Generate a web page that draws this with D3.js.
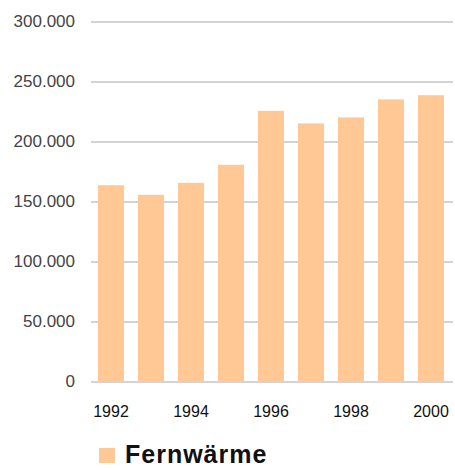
<!DOCTYPE html>
<html><head><meta charset="utf-8">
<script src="https://cdn.jsdelivr.net/npm/d3@7"></script>
<style>body{margin:0;background:#fff;}svg{display:block;font-family:Arial,"Liberation Sans",sans-serif;}</style>
</head><body>
<script>
const years = [1992,1993,1994,1995,1996,1997,1998,1999,2000];
const values = [164000,156000,166000,181000,226000,215500,220500,235500,239000];
const yTicks = [0,50000,100000,150000,200000,250000,300000];
const xTickLabels = [1992,1994,1996,1998,2000];
const seriesName = "Fernwärme";

const W=455,H=470;
const svg=d3.select("body").append("svg").attr("width",W).attr("height",H);
const x=d3.scaleBand().domain(years).range([91,451]).paddingInner(0.35).paddingOuter(0.175);
const y=d3.scaleLinear().domain([0,300000]).range([382,22]);
const fmt=v=>d3.format(",")(v).replace(/,/g,".");

// gridlines
svg.append("g").selectAll("line").data(yTicks).join("line")
  .attr("x1",91).attr("x2",453).attr("y1",d=>y(d)).attr("y2",d=>y(d))
  .attr("stroke","#c4c4c4").attr("stroke-width",1.5);
// y labels
svg.append("g").selectAll("text").data(yTicks).join("text")
  .attr("x",75).attr("y",d=>y(d)+5).attr("text-anchor","end")
  .attr("font-size",17).attr("fill","#444").text(fmt);
// bars
svg.append("g").selectAll("rect").data(years).join("rect")
  .attr("x",d=>x(d)).attr("width",x.bandwidth())
  .attr("y",(d,i)=>y(values[i])).attr("height",(d,i)=>y(0)-y(values[i]))
  .attr("fill","#ffc894");
// x labels
svg.append("g").selectAll("text").data(xTickLabels).join("text")
  .attr("x",d=>x(d)+x.bandwidth()/2).attr("y",417).attr("text-anchor","middle")
  .attr("font-size",16).attr("fill","#111").text(d=>d);
// legend
svg.append("rect").attr("x",99).attr("y",448).attr("width",16).attr("height",15).attr("fill","#ffc894");
svg.append("text").attr("x",125).attr("y",463).attr("font-size",25).attr("font-weight","bold")
  .attr("letter-spacing",1).attr("fill","#111").text(seriesName);
</script>
</body></html>
